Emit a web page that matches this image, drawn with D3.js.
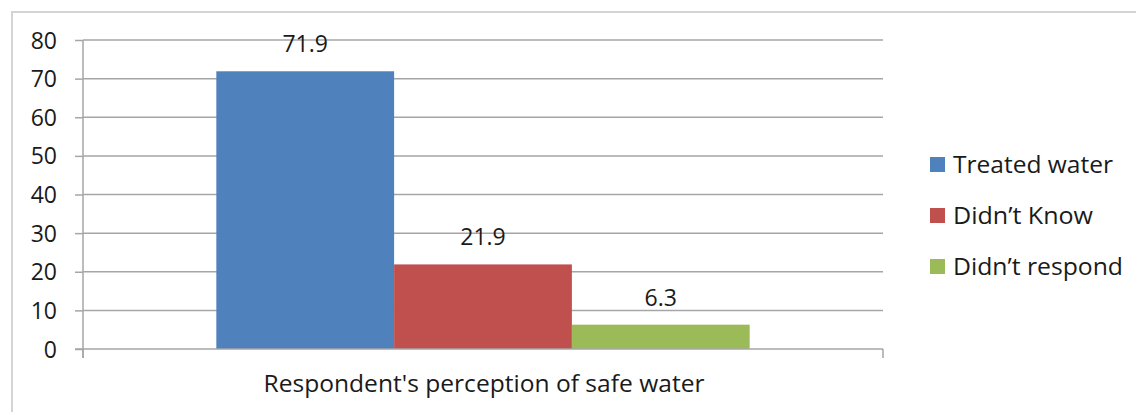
<!DOCTYPE html>
<html>
<head>
<meta charset="utf-8">
<script src="https://cdn.jsdelivr.net/npm/d3@7/dist/d3.min.js"></script>
<style>
  html, body { margin: 0; padding: 0; background: #fff; }
  svg { display: block; font-family: "Open Sans", "Lato", sans-serif; }
</style>
</head>
<body>
<svg id="chart" width="1136" height="412"></svg>
<script>
// Survey result: perception of safe water (percent of respondents)
const categories = ["Respondent's perception of safe water"];
const seriesNames = ["Treated water", "Didn\u2019t Know", "Didn\u2019t respond"];
const seriesValues = [71.9, 21.9, 6.3];
const seriesColors = ["#4f81bd", "#c0504d", "#9bbb59"];
const yTicks = [0, 10, 20, 30, 40, 50, 60, 70, 80];

const svg = d3.select("#chart");
const plot = { left: 83, right: 883, top: 40, bottom: 349 };

// outer frame (top and left edges visible)
svg.append("path")
  .attr("d", "M12,412 V12 H1136")
  .attr("fill", "none")
  .attr("stroke", "#d4d4d4")
  .attr("stroke-width", 2);

const y = d3.scaleLinear().domain([0, 80]).range([plot.bottom, plot.top]);
const x0 = d3.scaleBand().domain(categories).range([plot.left, plot.right]).padding(0);
const x1 = d3.scaleBand().domain(seriesNames).range([0, x0.bandwidth()])
  .paddingInner(0).paddingOuter(0.75);

// horizontal gridlines
svg.append("g").selectAll("line")
  .data(yTicks.filter(t => t > 0))
  .join("line")
  .attr("x1", plot.left).attr("x2", plot.right)
  .attr("y1", d => y(d)).attr("y2", d => y(d))
  .attr("stroke", "#a6a6a6").attr("stroke-width", 1.5);

// y axis
const yAxis = svg.append("g")
  .attr("transform", `translate(${plot.left},0)`)
  .call(d3.axisLeft(y).tickValues(yTicks).tickSize(8).tickPadding(18));
yAxis.select(".domain").attr("stroke", "#a6a6a6").attr("stroke-width", 1.5)
  .attr("d", `M0,${plot.top} V${plot.bottom + 9}`);
yAxis.selectAll(".tick line").attr("stroke", "#a6a6a6").attr("stroke-width", 1.5);
yAxis.selectAll(".tick text")
  .attr("fill", "#1a1a1a").attr("font-size", 23).attr("dy", "0.35em")
  .style("font-family", "'Open Sans', sans-serif");

// bars
const groups = svg.append("g").selectAll("g")
  .data(categories)
  .join("g")
  .attr("transform", d => `translate(${x0(d)},0)`);

groups.selectAll("rect")
  .data(seriesNames.map((s, i) => ({ s, v: seriesValues[i], c: seriesColors[i] })))
  .join("rect")
  .attr("x", d => x1(d.s))
  .attr("width", x1.bandwidth())
  .attr("y", d => y(d.v))
  .attr("height", d => y(0) - y(d.v))
  .attr("fill", d => d.c);

groups.selectAll("text.value")
  .data(seriesNames.map((s, i) => ({ s, v: seriesValues[i] })))
  .join("text")
  .attr("class", "value")
  .attr("x", d => x1(d.s) + x1.bandwidth() / 2)
  .attr("y", d => y(d.v) - 19)
  .attr("text-anchor", "middle")
  .attr("font-size", 23)
  .attr("fill", "#1a1a1a")
  .text(d => d.v.toFixed(1));

// x axis baseline with end ticks
const xAxis = svg.append("g").attr("transform", `translate(0,${plot.bottom})`);
xAxis.append("line")
  .attr("x1", plot.left - 8).attr("x2", plot.right)
  .attr("stroke", "#a6a6a6").attr("stroke-width", 1.5);
xAxis.selectAll("line.edge")
  .data([plot.left, plot.right])
  .join("line")
  .attr("class", "edge")
  .attr("x1", d => d).attr("x2", d => d)
  .attr("y1", 0).attr("y2", 9)
  .attr("stroke", "#a6a6a6").attr("stroke-width", 1.5);
xAxis.selectAll("text")
  .data(categories)
  .join("text")
  .attr("x", d => x0(d) + x0.bandwidth() / 2 + 1)
  .attr("y", 43)
  .attr("text-anchor", "middle")
  .attr("font-size", 23)
  .attr("fill", "#1a1a1a")
  .attr("textLength", 441)
  .attr("lengthAdjust", "spacingAndGlyphs")
  .text(d => d);

// legend
const legendWidths = [160, 140, 170];
const legend = svg.append("g").attr("transform", "translate(930,157)");
const items = legend.selectAll("g")
  .data(seriesNames)
  .join("g")
  .attr("transform", (d, i) => `translate(0,${i * 51})`);
items.append("rect")
  .attr("width", 15).attr("height", 15)
  .attr("fill", (d, i) => seriesColors[i]);
items.append("text")
  .attr("x", 23).attr("y", 16)
  .attr("font-size", 23)
  .attr("fill", "#1a1a1a")
  .attr("textLength", (d, i) => legendWidths[i])
  .attr("lengthAdjust", "spacingAndGlyphs")
  .text(d => d);
</script>
</body>
</html>
